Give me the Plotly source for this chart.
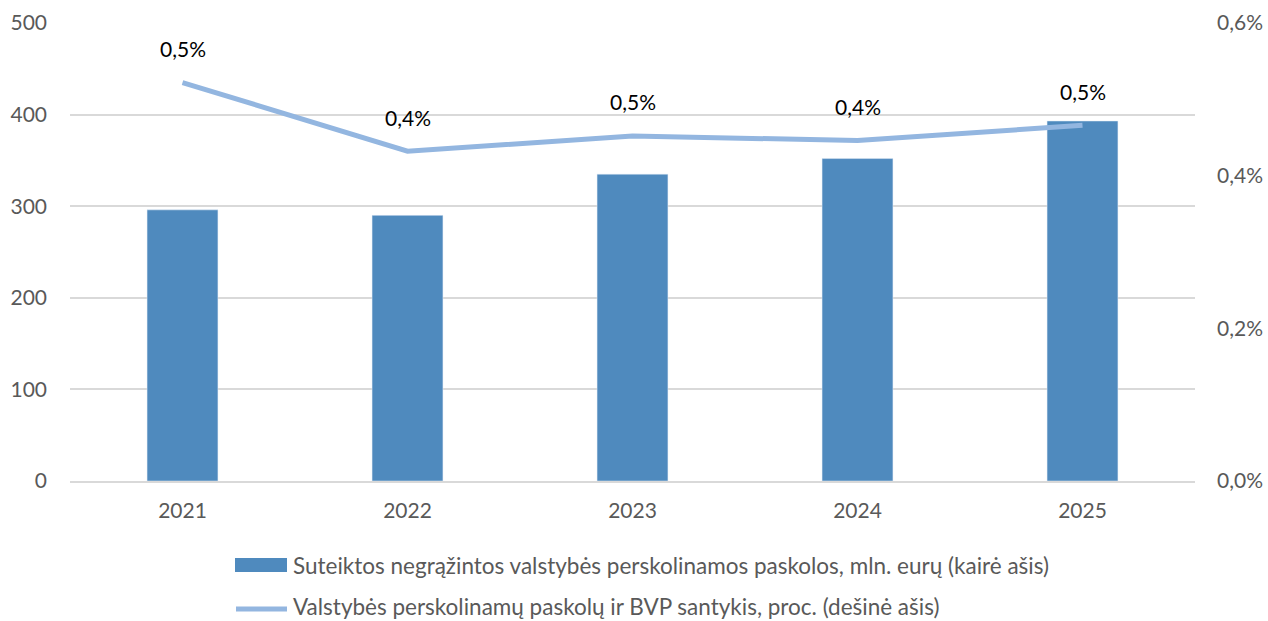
import plotly.graph_objects as go

years = [2021, 2022, 2023, 2024, 2025]
loans = [296, 290, 335, 352, 393]
ratio = [0.522, 0.432, 0.452, 0.446, 0.466]
ratio_labels = ["0,5%", "0,4%", "0,5%", "0,4%", "0,5%"]

bar_name = "Suteiktos negrąžintos valstybės perskolinamos paskolos, mln. eurų (kairė ašis)"
line_name = "Valstybės perskolinamų paskolų ir BVP santykis, proc. (dešinė ašis)"

FONT = "Lato, 'Open Sans', sans-serif"
BAR_C = "#4F8ABE"
LINE_C = "#93B6E0"
FS = 21
LFS = 22.5

# plot area in pixels
L, R, T, B = 70, 73, 23, 140
W, H = 1268, 621
PW, PH = W - L - R, H - T - B


def px(x):
    return (x - L) / PW


def py(y):
    return (H - B - y) / PH


fig = go.Figure()
fig.add_trace(go.Bar(x=years, y=loans, name=bar_name, marker_color=BAR_C,
                     width=0.315, yaxis="y", showlegend=False))
fig.add_trace(go.Scatter(x=years, y=ratio, name=line_name, mode="lines",
                         line=dict(color=LINE_C, width=5), yaxis="y2", showlegend=False))

for x, y, t in zip(years, ratio, ratio_labels):
    fig.add_annotation(x=x, y=y, xref="x", yref="y2", text=t, showarrow=False, yshift=34,
                       font=dict(size=FS, color="#000000", family=FONT))

# custom legend
fig.add_shape(type="rect", xref="paper", yref="paper",
              x0=px(235), x1=px(287), y0=py(558), y1=py(572),
              fillcolor=BAR_C, line=dict(width=0))
fig.add_annotation(xref="paper", yref="paper", x=px(291), y=py(565), xanchor="left",
                   yanchor="middle", text=bar_name, showarrow=False,
                   font=dict(size=LFS, color="#595959", family=FONT))
fig.add_shape(type="line", xref="paper", yref="paper",
              x0=px(236), x1=px(287), y0=py(609), y1=py(609),
              line=dict(color=LINE_C, width=5))
fig.add_annotation(xref="paper", yref="paper", x=px(291), y=py(607), xanchor="left",
                   yanchor="middle", text=line_name, showarrow=False,
                   font=dict(size=LFS, color="#595959", family=FONT))

fig.update_layout(
    width=W, height=H,
    margin=dict(l=L, r=R, t=T, b=B, autoexpand=False),
    plot_bgcolor="white", paper_bgcolor="white",
    font=dict(family=FONT, size=FS, color="#595959"),
    separators=", ",
    showlegend=False,
    xaxis=dict(type="linear", range=[2020.5, 2025.5], tickvals=years, automargin=False,
               showline=True, linecolor="#D9D9D9", linewidth=2,
               ticks="", showgrid=False, zeroline=False, ticklabelstandoff=10,
               tickfont=dict(size=FS, color="#595959")),
    yaxis=dict(range=[0, 500], dtick=100, showgrid=True, gridcolor="#D9D9D9",
               gridwidth=1.5, zeroline=False, ticks="", ticklabelstandoff=22,
               automargin=False, tickfont=dict(size=FS, color="#595959")),
    yaxis2=dict(range=[0, 0.6], dtick=0.2, tickformat=".1f", ticksuffix="%",
                overlaying="y", side="right", showgrid=False, zeroline=False,
                automargin=False, ticks="", ticklabelstandoff=21,
                tickfont=dict(size=FS, color="#595959")),
)

fig.write_html("out.html", config={"displayModeBar": False},
               post_script="document.body.style.margin='0';document.body.style.overflow='hidden';")
